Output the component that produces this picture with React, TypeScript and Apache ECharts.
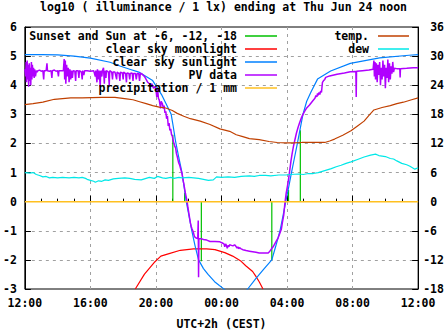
import React, { useEffect, useRef } from "react";
import * as echarts from "echarts";

const FONT = '"DejaVu Sans Mono", monospace';
const FS = 11.5;

const titleText = "log10 ( illuminance / 1 lx) ending at Thu Jun 24 noon";
const xTickLabels = ["12:00", "16:00", "20:00", "00:00", "04:00", "08:00", "12:00"];
const xAxisName = "UTC+2h (CEST)";

// hours after 12:00 on the x axis
const sunlightHours = [0, 1, 2, 3, 4, 5.2, 5.8, 6.4, 7.0, 7.4, 7.8, 8.37, 8.93, 9.05, 9.19, 9.4, 9.59, 9.72, 9.85, 10.02, 10.19, 10.38, 10.6, 10.9, 11.18, 11.58, 11.87, 12.08, 12.5,
  13.2, 13.6, 14.08, 14.58, 15.07, 15.3, 15.57, 15.75, 15.92, 16.1, 16.27, 16.45, 16.63, 16.8, 16.97, 17.2, 17.46, 17.86, 18.66, 19.86, 21.65, 23.44, 24];
const sunlightValues = [5.05, 5.05, 5.04, 5.0, 4.93, 4.79, 4.66, 4.55, 4.44, 4.3, 4.16, 3.65, 3.0, 2.6, 2.1, 1.5, 1.0, 0.5, 0.0, -0.5, -1.0, -1.5, -2.0, -2.3, -2.5, -2.75, -2.88, -2.97, -3.15,
  -3.2, -3.0, -2.65, -2.32, -2.0, -1.55, -1.0, -0.5, 0.0, 0.5, 1.0, 1.5, 2.0, 2.5, 3.0, 3.45, 3.77, 4.21, 4.49, 4.75, 4.94, 5.03, 5.05];

const moonHours = [6.74, 7.3, 7.89, 8.3, 8.7, 9.49, 10.29, 11.09, 11.6, 12.2, 12.68, 13.2, 13.48, 13.9, 14.08, 14.3, 14.53];
const moonValues = [-3.0, -2.49, -2.09, -1.87, -1.8, -1.67, -1.62, -1.62, -1.65, -1.75, -1.87, -2.05, -2.2, -2.4, -2.55, -2.75, -3.0];

const pvPoints = [
  [0, 4.55], [0.05, 4.3], [0.08, 4.8], [0.1, 4.1], [0.14, 4.85], [0.17, 4.2], [0.2, 4.7], [0.23, 3.95], [0.27, 4.75], [0.3, 4.15], [0.33, 4.6], [0.36, 4.0], [0.4, 4.8], [0.43, 4.2], [0.46, 4.7], [0.5, 4.3], [0.53, 4.6], [0.57, 4.25], [0.6, 4.55], [0.65, 4.3], [0.7, 4.5], [0.75, 4.45], [0.8, 4.5],
  [0.9, 4.52], [1.0, 4.48], [1.1, 4.5], [1.15, 4.2], [1.18, 4.5], [1.3, 4.5], [1.35, 4.75], [1.38, 4.5], [1.5, 4.48], [1.6, 4.5], [1.65, 4.25], [1.68, 4.5], [1.8, 4.52], [1.9, 4.48], [2.0, 4.5], [2.05, 4.3], [2.08, 4.5], [2.2, 4.5],
  [2.35, 4.5], [2.4, 4.9], [2.43, 4.2], [2.47, 4.85], [2.5, 4.05], [2.55, 4.7], [2.6, 4.3], [2.65, 4.6], [2.7, 4.1], [2.75, 4.55], [2.8, 4.2], [2.85, 4.5], [2.9, 4.25], [2.95, 4.5], [3.05, 4.48], [3.1, 4.15], [3.13, 4.5], [3.25, 4.5], [3.3, 4.25], [3.33, 4.5], [3.45, 4.45], [3.5, 4.2], [3.53, 4.5], [3.6, 4.35], [3.65, 4.5],
  [3.8, 4.5], [4.0, 4.48], [4.2, 4.5], [4.3, 4.3], [4.33, 4.5], [4.4, 4.1], [4.43, 4.55], [4.5, 4.2], [4.53, 4.5], [4.6, 3.95], [4.63, 4.5], [4.7, 4.3], [4.73, 4.5], [4.8, 4.6], [4.85, 4.05], [4.88, 4.5], [4.95, 4.25], [4.98, 4.5], [5.1, 4.45], [5.15, 4.0], [5.18, 4.5], [5.3, 4.45], [5.35, 4.2], [5.38, 4.45],
  [5.5, 4.45], [5.6, 4.2], [5.63, 4.45], [5.75, 4.4], [5.8, 4.15], [5.83, 4.45], [5.95, 4.42], [6.0, 4.2], [6.03, 4.45], [6.15, 4.4], [6.2, 4.1], [6.23, 4.42], [6.35, 4.4], [6.4, 4.2], [6.43, 4.4], [6.55, 4.42], [6.6, 4.15], [6.63, 4.4],
  [6.75, 4.4], [6.8, 4.2], [6.85, 4.4], [6.95, 4.4], [7.0, 4.15], [7.05, 4.42], [7.15, 4.38], [7.3, 4.3], [7.4, 4.2], [7.5, 4.1], [7.6, 4.05], [7.7, 3.95], [7.75, 4.05], [7.85, 3.9], [7.95, 3.95], [8.0, 3.85], [8.05, 3.6], [8.1, 3.9], [8.15, 3.55], [8.2, 3.5], [8.28, 3.2], [8.32, 3.45], [8.4, 3.35], [8.45, 3.2], [8.5, 3.3], [8.55, 3.05], [8.6, 3.1], [8.65, 2.85], [8.7, 2.95], [8.75, 2.6], [8.8, 2.7], [8.85, 2.45], [8.9, 2.5], [8.95, 2.3], [9.0, 2.25], [9.05, 2.1], [9.1, 2.0], [9.15, 1.9], [9.2, 1.85], [9.25, 1.65], [9.3, 1.55], [9.38, 1.35], [9.45, 1.25], [9.52, 1.1], [9.59, 0.97], [9.65, 0.75], [9.7, 0.62], [9.75, 0.45], [9.8, 0.28], [9.85, 0.15], [9.9, 0.02], [9.95, -0.2], [10.0, -0.37], [10.05, -0.55], [10.1, -0.72], [10.15, -0.85], [10.2, -0.93], [10.28, -1.05], [10.35, -1.2], [10.45, -1.25], [10.55, -1.27], [10.58, -0.65], [10.6, -2.6], [10.62, -1.27],
  [10.75, -1.27], [10.9, -1.3], [11.1, -1.32], [11.3, -1.37], [11.6, -1.37], [11.9, -1.38], [12.05, -1.42], [12.15, -1.45], [12.2, -1.55], [12.25, -1.45], [12.3, -1.5], [12.35, -1.6], [12.4, -1.5], [12.45, -1.55], [12.5, -1.48], [12.6, -1.5], [12.7, -1.52], [12.8, -1.48], [12.9, -1.55], [12.95, -1.6], [13.0, -1.55], [13.05, -1.62], [13.1, -1.58], [13.2, -1.62], [13.3, -1.65], [13.5, -1.68], [13.7, -1.7], [13.9, -1.72], [14.1, -1.74], [14.3, -1.76], [14.6, -1.76], [14.85, -1.76],
  [14.95, -1.7], [15.05, -1.62], [15.15, -1.55], [15.25, -1.45], [15.35, -1.35], [15.45, -1.25], [15.55, -1.1], [15.65, -0.95], [15.72, -0.7], [15.8, -0.45], [15.87, -0.05], [15.95, 0.3], [16.03, 0.55], [16.1, 0.8], [16.17, 1.1], [16.24, 1.4], [16.31, 1.65], [16.39, 1.9], [16.47, 2.1], [16.57, 2.35], [16.67, 2.55], [16.77, 2.72], [16.87, 2.87], [16.97, 3.0], [17.07, 3.1], [17.2, 3.22], [17.37, 3.32], [17.55, 3.45], [17.7, 3.55], [17.76, 3.65], [17.82, 3.6], [17.86, 3.72], [17.9, 3.65], [17.95, 3.75], [18.0, 3.68], [18.05, 3.8], [18.1, 3.75], [18.16, 4.1], [18.22, 4.15], [18.3, 4.2], [18.36, 4.27], [18.6, 4.32], [19.05, 4.38], [19.5, 4.42], [19.86, 4.46], [20.2, 4.47], [20.22, 3.6], [20.24, 4.48], [20.6, 4.5], [21.0, 4.52],
  [21.25, 4.55], [21.3, 4.85], [21.33, 4.3], [21.37, 4.8], [21.4, 4.2], [21.45, 4.75], [21.5, 4.1], [21.55, 4.7], [21.6, 4.35], [21.65, 4.8], [21.7, 4.0], [21.75, 4.6], [21.8, 4.2], [21.85, 4.85], [21.9, 4.3], [21.95, 4.7], [22.0, 3.9], [22.05, 4.6], [22.1, 4.25], [22.15, 4.88], [22.2, 4.1], [22.25, 4.75], [22.3, 4.2], [22.35, 4.65], [22.4, 4.4], [22.45, 4.8], [22.5, 4.45], [22.55, 4.58],
  [22.7, 4.57], [22.88, 4.57], [22.9, 4.27], [22.92, 4.57], [23.3, 4.58], [23.7, 4.6], [24, 4.6],
];

const precipHours = [0, 24];
const precipValues = [0, 0];

const sunsetHours = [9.03, 9.75, 10.77, 15.07, 16.09, 16.81];
const sunsetTops = [2.3, 0.3, -2.05, -2.0, 0.4, 2.45];

// right axis (°C)
const tempHours = [0, 0.5, 1.1, 1.8, 2.8, 3.5, 4.7, 5.5, 6.2, 6.6, 7.0, 7.4, 7.8, 8.2, 8.6, 9.0, 9.3, 9.7, 10.1, 10.7, 11.3, 11.9, 12.5, 12.9, 13.3, 13.7, 14.3, 14.9, 15.4, 15.9, 16.4, 16.9, 17.6, 18.3, 18.6, 18.9, 19.4, 19.9, 20.3, 20.7, 21.0, 21.3, 21.8, 22.3, 22.7, 23.1, 23.6, 24];
const tempValues = [20.0, 20.2, 20.5, 21.1, 21.4, 21.4, 21.5, 21.5, 21.2, 21.0, 20.6, 20.2, 19.8, 19.5, 19.3, 18.8, 18.2, 17.6, 17.1, 16.6, 15.9, 15.0, 14.5, 13.8, 13.4, 13.0, 12.8, 12.4, 12.2, 12.1, 12.1, 12.2, 12.2, 12.2, 12.5, 12.9, 13.7, 14.6, 15.6, 16.6, 17.8, 18.9, 19.4, 19.8, 20.2, 20.5, 21.0, 21.4];

const dewPoints = [
  [0, 6.0], [0.3, 5.9], [0.5, 6.0], [0.7, 5.6], [0.9, 5.4], [1.1, 5.1], [1.3, 5.2], [1.5, 4.9], [1.7, 5.0], [2.0, 4.9], [2.3, 5.0], [2.7, 4.9], [3.0, 5.0], [3.3, 4.9], [3.5, 5.0], [3.7, 4.8], [3.8, 4.6], [4.0, 4.4], [4.2, 4.2], [4.3, 4.0],
  [4.5, 4.3], [4.7, 4.2], [4.9, 4.5], [5.1, 4.4], [5.4, 4.7], [5.7, 4.8], [6.1, 4.9], [6.4, 4.8], [6.7, 4.6], [7.1, 4.5], [7.4, 4.8], [7.6, 5.0], [7.9, 4.8], [8.1, 5.2], [8.4, 4.9], [8.6, 4.8], [8.9, 5.0], [9.1, 4.8], [9.4, 5.0], [9.6, 4.9],
  [10.0, 5.0], [10.3, 4.9], [10.6, 4.8], [10.9, 4.6], [11.2, 4.4], [11.5, 4.5], [11.7, 5.1], [12.0, 5.0], [12.4, 5.1], [12.8, 5.0], [13.2, 5.2], [13.7, 5.3], [14.0, 5.2], [14.3, 5.4], [14.7, 5.4], [15.0, 5.3], [15.5, 5.5], [15.9, 5.5], [16.2, 5.6], [16.7, 5.7],
  [17.0, 5.6], [17.3, 5.8], [17.6, 5.8], [17.9, 6.0], [18.3, 6.4], [18.7, 6.8], [19.0, 7.2], [19.3, 7.5], [19.6, 7.9], [19.9, 8.2], [20.3, 8.7], [20.7, 9.2], [21.1, 9.6], [21.4, 9.8], [21.6, 9.5], [21.8, 9.4], [22.0, 9.3], [22.3, 8.9], [22.5, 8.8], [22.7, 8.4],
  [23.0, 7.9], [23.3, 7.6], [23.5, 7.3], [23.8, 6.7], [24, 7.0],
];

const COLORS = {
  sunset: "#00c000",
  moon: "#ff0000",
  sun: "#0080ff",
  pv: "#b000ff",
  precip: "#ffc020",
  temp: "#c04000",
  dew: "#00e8e8",
};

const leftLegend = [
  { name: "Sunset and Sun at -6, -12, -18", color: COLORS.sunset },
  { name: "clear sky moonlight", color: COLORS.moon },
  { name: "clear sky sunlight", color: COLORS.sun },
  { name: "PV data", color: COLORS.pv },
  { name: "precipitation / 1 mm", color: COLORS.precip },
];
const rightLegend = [
  { name: "temp.", color: COLORS.temp },
  { name: "dew", color: COLORS.dew },
];

const zip = (xs: number[], ys: number[]) => xs.map((x, i) => [x, ys[i]]);

const textStyle = { fontFamily: FONT, fontSize: FS, fontWeight: "bold" as const, color: "#000" };

export default function App() {
  const ref = useRef<HTMLDivElement>(null);
  useEffect(() => {
    if (!ref.current) return;
    const chart = echarts.init(ref.current, undefined, { renderer: "svg" });

    const lineSeries = (name: string, data: any[], color: string, width: number, yAxisIndex = 0, z = 2) => ({
      type: "line",
      name,
      data,
      yAxisIndex,
      showSymbol: false,
      symbol: "none",
      clip: true,
      z,
      lineStyle: { color, width },
      itemStyle: { color },
      emphasis: { disabled: true },
    });

    const sunsetSeries = sunsetHours.map((h, i) =>
      lineSeries("Sunset and Sun at -6, -12, -18", [[h, 0], [h, sunsetTops[i]]], COLORS.sunset, 1.2, 0, 1)
    );

    const graphics: any[] = [];
    const rowY = [36, 49, 62, 75, 88];
    leftLegend.forEach((item, i) => {
      graphics.push({
        type: "text",
        x: 237,
        y: rowY[i],
        z: 100,
        style: { text: item.name, textAlign: "right", textVerticalAlign: "middle", fontFamily: FONT, fontSize: FS, fontWeight: "bold", fill: "#000" },
      });
      graphics.push({
        type: "line",
        z: 100,
        shape: { x1: 245, y1: rowY[i], x2: 277, y2: rowY[i] },
        style: { stroke: item.color, lineWidth: 1.5 },
      });
    });
    rightLegend.forEach((item, i) => {
      graphics.push({
        type: "text",
        x: 369,
        y: rowY[i],
        z: 100,
        style: { text: item.name, textAlign: "right", textVerticalAlign: "middle", fontFamily: FONT, fontSize: FS, fontWeight: "bold", fill: "#000" },
      });
      graphics.push({
        type: "line",
        z: 100,
        shape: { x1: 378, y1: rowY[i], x2: 409, y2: rowY[i] },
        style: { stroke: item.color, lineWidth: 1.5 },
      });
    });

    const option: any = {
      animation: false,
      backgroundColor: "#ffffff",
      title: {
        text: titleText,
        left: "center",
        top: 1,
        padding: 0,
        textStyle: { ...textStyle },
      },
      grid: { left: 21, right: 24, top: 27, bottom: 40, show: true, borderColor: "#000", borderWidth: 1, backgroundColor: "transparent" },
      xAxis: {
        type: "value",
        min: 0,
        max: 24,
        interval: 4,
        axisLine: { show: true, lineStyle: { color: "#000", width: 1 } },
        axisTick: { show: true, inside: true, length: 6, lineStyle: { color: "#000" } },
        minorTick: { show: true, splitNumber: 4, length: 3, lineStyle: { color: "#000" } },
        axisLabel: {
          ...textStyle,
          margin: 8,
          formatter: (v: number) => xTickLabels[Math.round(v / 4)] ?? "",
        },
        splitLine: { show: true, showMinLine: false, showMaxLine: false, lineStyle: { color: "#a0a0a0", type: [3, 4], width: 1 } },
        name: xAxisName,
        nameLocation: "middle",
        nameGap: 29,
        nameTextStyle: { ...textStyle },
      },
      yAxis: [
        {
          type: "value",
          min: -3,
          max: 6,
          interval: 1,
          axisLine: { show: true, lineStyle: { color: "#000" } },
          axisTick: { show: true, inside: true, length: 6, lineStyle: { color: "#000" } },
          axisLabel: { ...textStyle, margin: 8 },
          splitLine: { show: true, showMinLine: false, showMaxLine: false, lineStyle: { color: "#a0a0a0", type: [3, 4], width: 1 } },
        },
        {
          type: "value",
          min: -18,
          max: 36,
          interval: 6,
          position: "right",
          axisLine: { show: true, lineStyle: { color: "#000" } },
          axisTick: { show: true, inside: true, length: 6, lineStyle: { color: "#000" } },
          axisLabel: {
            ...textStyle,
            margin: 5,
            align: "left",
            formatter: (v: number) => (v >= 0 ? "{p|" + v + "}" : "{n|" + v + "}"),
            rich: {
              p: { ...textStyle, padding: [0, 0, 0, 7] },
              n: { ...textStyle },
            },
          },
          splitLine: { show: false },
        },
      ],
      graphic: graphics,
      series: [
        ...sunsetSeries,
        lineSeries("clear sky moonlight", zip(moonHours, moonValues), COLORS.moon, 1.2, 0, 2),
        lineSeries("clear sky sunlight", zip(sunlightHours, sunlightValues), COLORS.sun, 1.2, 0, 3),
        lineSeries("PV data", pvPoints, COLORS.pv, 1.5, 0, 4),
        lineSeries("precipitation / 1 mm", zip(precipHours, precipValues), COLORS.precip, 1.5, 0, 5),
        lineSeries("temp.", zip(tempHours, tempValues), COLORS.temp, 1.2, 1, 6),
        lineSeries("dew", dewPoints, COLORS.dew, 1.2, 1, 7),
      ],
    };
    chart.setOption(option);
    return () => chart.dispose();
  }, []);

  return (
    <div
      ref={ref}
      style={{ position: "fixed", left: 0, top: 0, width: 447, height: 335, background: "#fff" }}
    />
  );
}
